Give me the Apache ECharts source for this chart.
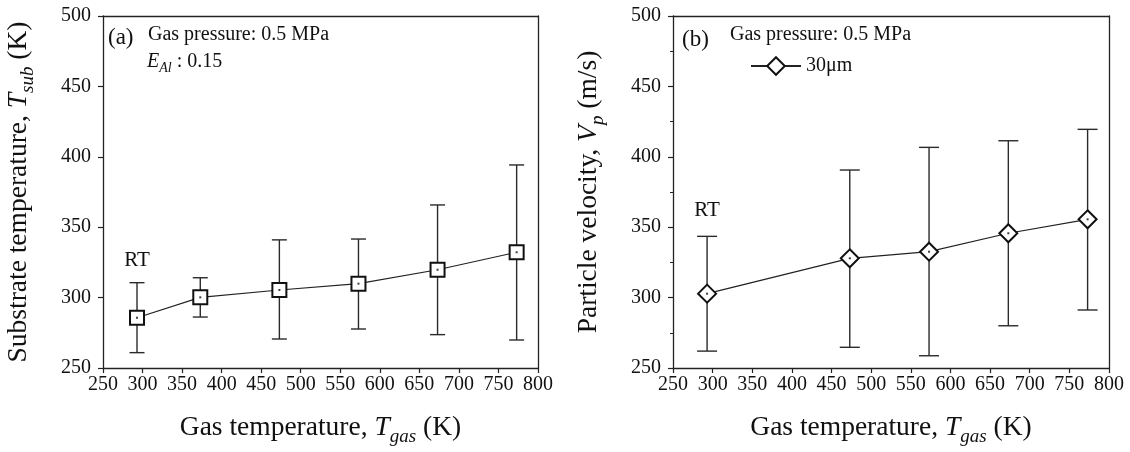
<!DOCTYPE html>
<html>
<head>
<meta charset="utf-8">
<script src="https://cdn.jsdelivr.net/npm/echarts@6/dist/echarts.min.js"></script>
<style>
html,body{margin:0;padding:0;background:#fff;}
#main{width:1130px;height:452px;}
</style>
</head>
<body>
<div id="main"></div>
<script>
// (a) substrate temperature vs gas temperature
var gasTempA = [293, 373, 473, 573, 673, 773];
var subTemp = [285.7, 300.2, 305.4, 309.9, 319.8, 332.2];
var subTempHigh = [310.6, 314.1, 341, 341.6, 365.8, 394.2];
var subTempLow = [260.9, 286.2, 270.6, 277.7, 273.7, 269.9];
// (b) particle velocity vs gas temperature
var gasTempB = [293, 473, 573, 673, 773];
var velocity = [302.8, 327.9, 332.6, 345.7, 355.6];
var velocityHigh = [343.5, 390.6, 406.7, 411.4, 419.5];
var velocityLow = [262, 264.7, 258.7, 280, 291.2];

var FONT = '"Liberation Serif", "DejaVu Serif", serif';
var myChart = echarts.init(document.getElementById('main'));

function zip(xs, ys) {
  return xs.map(function (x, i) { return [x, ys[i]]; });
}
function errData(xs, lo, hi) {
  return xs.map(function (x, i) { return [x, lo[i], hi[i]]; });
}
function errBars(capHalf, rtGap) {
  return function (params, api) {
    var x = api.value(0);
    var lo = api.coord([x, api.value(1)]);
    var hi = api.coord([x, api.value(2)]);
    var st = { stroke: '#2a2a2a', lineWidth: 1.4 };
    var kids = [
      { type: 'line', shape: { x1: lo[0], y1: lo[1], x2: hi[0], y2: hi[1] }, style: st },
      { type: 'line', shape: { x1: hi[0] - capHalf, y1: hi[1], x2: hi[0] + capHalf, y2: hi[1] }, style: st },
      { type: 'line', shape: { x1: lo[0] - capHalf, y1: lo[1], x2: lo[0] + capHalf, y2: lo[1] }, style: st }
    ];
    if (params.dataIndex === 0) {
      kids.push({ type: 'text', x: hi[0], y: hi[1] - rtGap,
        style: { text: 'RT', font: '21px ' + FONT, fill: '#111', align: 'center', verticalAlign: 'middle' } });
    }
    return { type: 'group', children: kids };
  };
}

var xLabel = { fontFamily: FONT, fontSize: 20, color: '#111', margin: 7 };
var yLabel = { fontFamily: FONT, fontSize: 20, color: '#111', margin: 12 };
var axisLine = { show: true, onZero: false, lineStyle: { color: '#222', width: 1.3 } };
var axisTick = { show: true, inside: false, length: 5, lineStyle: { color: '#222', width: 1.2 } };
var nameStyle = {
  fontFamily: FONT, fontSize: 27.5, color: '#111',
  rich: {
    n: { fontFamily: FONT, fontSize: 27.5, color: '#111', lineHeight: 36 },
    i: { fontFamily: FONT, fontSize: 27.5, color: '#111', fontStyle: 'italic', lineHeight: 36 },
    s: { fontFamily: FONT, fontSize: 19, color: '#111', fontStyle: 'italic', verticalAlign: 'bottom' }
  }
};

function xAxis(idx) {
  return {
    type: 'value', gridIndex: idx, min: 250, max: 800, interval: 50,
    axisLine: axisLine, axisTick: axisTick, axisLabel: xLabel, splitLine: { show: false },
    name: '{n|Gas temperature, }{i|T}{s|gas}{n| (K)}', nameLocation: 'middle', nameGap: 42,
    nameTextStyle: nameStyle
  };
}
function xTop(idx) {
  return { type: 'value', gridIndex: idx, position: 'top', min: 250, max: 800,
    axisLine: axisLine, axisTick: { show: false }, axisLabel: { show: false }, splitLine: { show: false } };
}
function yTop(idx) {
  return { type: 'value', gridIndex: idx, position: 'right', min: 250, max: 500,
    axisLine: axisLine, axisTick: { show: false }, axisLabel: { show: false }, splitLine: { show: false } };
}

var option = {
  animation: false,
  backgroundColor: '#fff',
  grid: [
    { left: 103, top: 16, width: 435, height: 352 },
    { left: 673, top: 16, width: 436, height: 352 }
  ],
  xAxis: [xAxis(0), xAxis(1), xTop(0), xTop(1)],
  yAxis: [
    {
      type: 'value', gridIndex: 0, min: 250, max: 500, interval: 50,
      axisLine: axisLine, axisTick: axisTick, axisLabel: yLabel, splitLine: { show: false },
      name: '{n|Substrate temperature, }{i|T}{s|sub}{n| (K)}', nameLocation: 'middle', nameGap: 66,
      nameTextStyle: nameStyle
    },
    {
      type: 'value', gridIndex: 1, min: 250, max: 500, interval: 50,
      axisLine: axisLine, axisTick: axisTick, axisLabel: yLabel, splitLine: { show: false },
      minorTick: { show: true, splitNumber: 2, length: 3, lineStyle: { color: '#222', width: 1 } },
      name: '{n|Particle velocity, }{i|V}{s|p}{n| (m/s)}', nameLocation: 'middle', nameGap: 66,
      nameTextStyle: nameStyle
    },
    yTop(0), yTop(1)
  ],
  legend: {
    left: 750, top: 56, padding: 0, itemWidth: 50, itemHeight: 22, itemGap: 4,
    data: ['30μm'],
    textStyle: { fontFamily: FONT, fontSize: 20, color: '#111' }
  },
  graphic: [
    { type: 'text', left: 108, top: 26, style: { text: '(a)', font: '23px ' + FONT, fill: '#111' } },
    { type: 'text', left: 148, top: 25, style: { text: 'Gas pressure: 0.5 MPa', font: '20px ' + FONT, fill: '#111' } },
    { type: 'text', left: 147, top: 52, style: {
      text: '{i|E}{s|Al}{n| : 0.15}',
      rich: {
        n: { font: '20px ' + FONT, fill: '#111', lineHeight: 26 },
        i: { font: 'italic 20px ' + FONT, fill: '#111', lineHeight: 26 },
        s: { font: 'italic 14px ' + FONT, fill: '#111', verticalAlign: 'bottom' }
      } } },
    { type: 'text', left: 682, top: 28, style: { text: '(b)', font: '23px ' + FONT, fill: '#111' } },
    { type: 'text', left: 730, top: 25, style: { text: 'Gas pressure: 0.5 MPa', font: '20px ' + FONT, fill: '#111' } }
  ],
  series: [
    {
      type: 'custom', xAxisIndex: 0, yAxisIndex: 0, z: 1,
      renderItem: errBars(7.5, 22), data: errData(gasTempA, subTempLow, subTempHigh)
    },
    {
      name: 'a', type: 'line', xAxisIndex: 0, yAxisIndex: 0, z: 3,
      data: zip(gasTempA, subTemp), symbol: 'rect', symbolSize: 14,
      lineStyle: { color: '#222', width: 1.2 },
      itemStyle: { color: '#fff', borderColor: '#111', borderWidth: 2 }
    },
    {
      type: 'scatter', xAxisIndex: 0, yAxisIndex: 0, z: 4, silent: true,
      data: zip(gasTempA, subTemp), symbol: 'rect', symbolSize: 2, itemStyle: { color: '#111' }
    },
    {
      type: 'custom', xAxisIndex: 1, yAxisIndex: 1, z: 1,
      renderItem: errBars(10, 26), data: errData(gasTempB, velocityLow, velocityHigh)
    },
    {
      name: '30μm', type: 'line', xAxisIndex: 1, yAxisIndex: 1, z: 3,
      data: zip(gasTempB, velocity), symbol: 'diamond', symbolSize: 18,
      lineStyle: { color: '#222', width: 1.2 },
      itemStyle: { color: '#fff', borderColor: '#111', borderWidth: 2 }
    },
    {
      type: 'scatter', xAxisIndex: 1, yAxisIndex: 1, z: 4, silent: true,
      data: zip(gasTempB, velocity), symbol: 'rect', symbolSize: 2, itemStyle: { color: '#111' }
    }
  ]
};
myChart.setOption(option);
window.onresize = function () {
  myChart.resize();
};
</script>
</body>
</html>
